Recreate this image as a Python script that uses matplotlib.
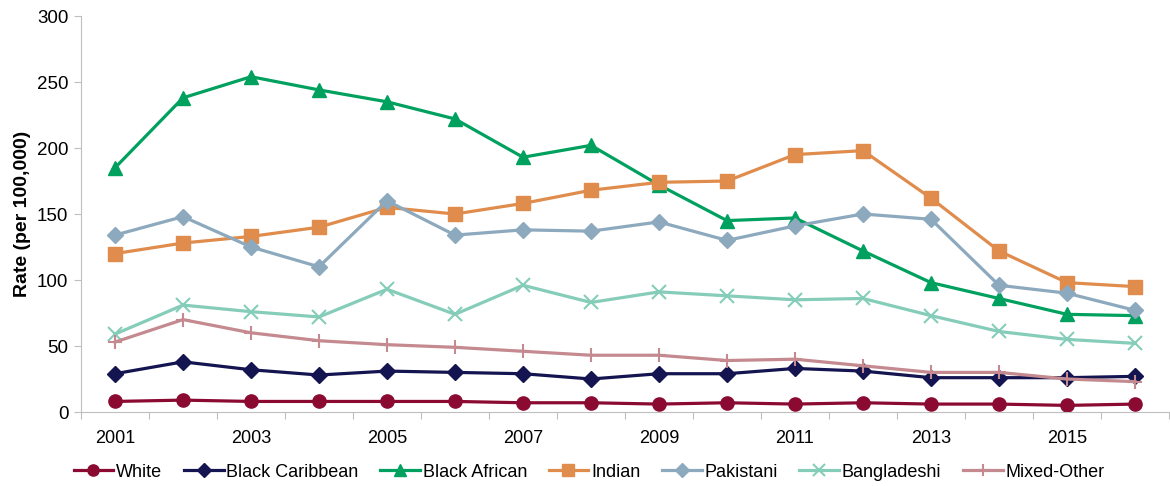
import numpy as np
import matplotlib.pyplot as plt

plt.rcParams['font.family'] = ['Liberation Sans', 'DejaVu Sans']

years = list(range(2001, 2017))
white = [8, 9, 8, 8, 8, 8, 7, 7, 6, 7, 6, 7, 6, 6, 5, 6]
black_caribbean = [29, 38, 32, 28, 31, 30, 29, 25, 29, 29, 33, 31, 26, 26, 26, 27]
black_african = [185, 238, 254, 244, 235, 222, 193, 202, 172, 145, 147, 122, 98, 86, 74, 73]
indian = [120, 128, 133, 140, 155, 150, 158, 168, 174, 175, 195, 198, 162, 122, 98, 95]
pakistani = [134, 148, 125, 110, 160, 134, 138, 137, 144, 130, 141, 150, 146, 96, 90, 77]
bangladeshi = [59, 81, 76, 72, 93, 74, 96, 83, 91, 88, 85, 86, 73, 61, 55, 52]
mixed_other = [53, 70, 60, 54, 51, 49, 46, 43, 43, 39, 40, 35, 30, 30, 25, 23]

series = [
    ('White', white, '#8B0A32', 'o', 9.5),
    ('Black Caribbean', black_caribbean, '#131450', 'D', 8),
    ('Black African', black_african, '#00A05F', '^', 10),
    ('Indian', indian, '#E08C4C', 's', 9.5),
    ('Pakistani', pakistani, '#8CA9BE', 'D', 8),
    ('Bangladeshi', bangladeshi, '#85CDB9', 'x', 10),
    ('Mixed-Other', mixed_other, '#C48A90', '+', 10),
]

fig = plt.figure(figsize=(11.7, 4.86), dpi=100)
ax = fig.add_axes([81 / 1170, 1 - 412 / 486, (1169 - 81) / 1170, (412 - 16) / 486])

x = np.arange(len(years))
for name, vals, color, marker, ms in series:
    ax.plot(x, vals, color=color, marker=marker, markersize=ms, linewidth=2.3,
            label=name, markeredgewidth=1.5 if marker in ('x', '+') else 1,
            markeredgecolor=color)

ax.set_xlim(-0.5, len(years) - 0.5)
ax.set_ylim(0, 300)
ax.set_yticks(range(0, 301, 50))
ax.set_xticks(np.arange(-0.5, len(years), 1), minor=False)
ax.set_xticklabels([])
ax.set_xticks(x[::2], minor=True)
ax.set_xticklabels([str(y) for y in years[::2]], minor=True)
ax.tick_params(axis='x', which='minor', length=0, pad=13, labelsize=13)
ax.tick_params(axis='x', which='major', length=5, color='#BFBFBF')
ax.tick_params(axis='y', length=5, color='#BFBFBF', labelsize=13.5, pad=4)

for side in ('top', 'right'):
    ax.spines[side].set_visible(False)
for side in ('left', 'bottom'):
    ax.spines[side].set_color('#BFBFBF')

ax.set_ylabel('Rate (per 100,000)', fontsize=14, fontweight='bold', labelpad=4)

ax.legend(loc='center', bbox_to_anchor=(0.467, -0.152), ncol=7, frameon=False,
          fontsize=13, handlelength=2.2, handletextpad=0.15, columnspacing=1.2,
          markerscale=0.85, borderpad=0.1)

fig.savefig('out.png', dpi=100)
